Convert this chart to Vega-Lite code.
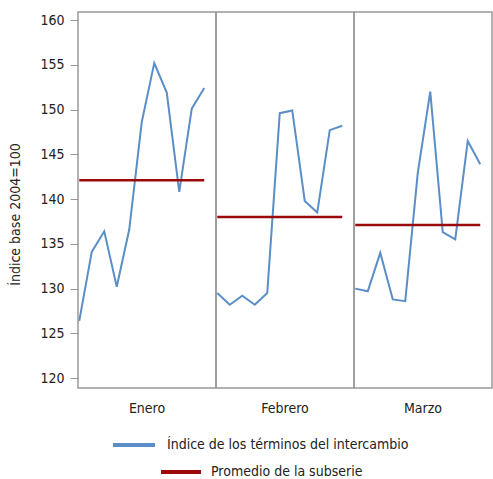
{
  "$schema": "https://vega.github.io/schema/vega-lite/v6.json",
  "padding": {"left": 8, "top": 11, "right": 0, "bottom": 0},
  "background": "white",
  "bounds": "flush",
  "data": {"values": [
    {"mes": "Enero", "anio": 2003, "valor": 126.4, "serie": "Índice de los términos del intercambio"},
    {"mes": "Enero", "anio": 2004, "valor": 134.1, "serie": "Índice de los términos del intercambio"},
    {"mes": "Enero", "anio": 2005, "valor": 136.4, "serie": "Índice de los términos del intercambio"},
    {"mes": "Enero", "anio": 2006, "valor": 130.2, "serie": "Índice de los términos del intercambio"},
    {"mes": "Enero", "anio": 2007, "valor": 136.6, "serie": "Índice de los términos del intercambio"},
    {"mes": "Enero", "anio": 2008, "valor": 148.6, "serie": "Índice de los términos del intercambio"},
    {"mes": "Enero", "anio": 2009, "valor": 155.2, "serie": "Índice de los términos del intercambio"},
    {"mes": "Enero", "anio": 2010, "valor": 151.9, "serie": "Índice de los términos del intercambio"},
    {"mes": "Enero", "anio": 2011, "valor": 140.8, "serie": "Índice de los términos del intercambio"},
    {"mes": "Enero", "anio": 2012, "valor": 150.1, "serie": "Índice de los términos del intercambio"},
    {"mes": "Enero", "anio": 2013, "valor": 152.4, "serie": "Índice de los términos del intercambio"},
    {"mes": "Febrero", "anio": 2003, "valor": 129.5, "serie": "Índice de los términos del intercambio"},
    {"mes": "Febrero", "anio": 2004, "valor": 128.2, "serie": "Índice de los términos del intercambio"},
    {"mes": "Febrero", "anio": 2005, "valor": 129.2, "serie": "Índice de los términos del intercambio"},
    {"mes": "Febrero", "anio": 2006, "valor": 128.2, "serie": "Índice de los términos del intercambio"},
    {"mes": "Febrero", "anio": 2007, "valor": 129.5, "serie": "Índice de los términos del intercambio"},
    {"mes": "Febrero", "anio": 2008, "valor": 149.6, "serie": "Índice de los términos del intercambio"},
    {"mes": "Febrero", "anio": 2009, "valor": 149.9, "serie": "Índice de los términos del intercambio"},
    {"mes": "Febrero", "anio": 2010, "valor": 139.8, "serie": "Índice de los términos del intercambio"},
    {"mes": "Febrero", "anio": 2011, "valor": 138.5, "serie": "Índice de los términos del intercambio"},
    {"mes": "Febrero", "anio": 2012, "valor": 147.7, "serie": "Índice de los términos del intercambio"},
    {"mes": "Febrero", "anio": 2013, "valor": 148.2, "serie": "Índice de los términos del intercambio"},
    {"mes": "Marzo", "anio": 2003, "valor": 130.0, "serie": "Índice de los términos del intercambio"},
    {"mes": "Marzo", "anio": 2004, "valor": 129.7, "serie": "Índice de los términos del intercambio"},
    {"mes": "Marzo", "anio": 2005, "valor": 134.0, "serie": "Índice de los términos del intercambio"},
    {"mes": "Marzo", "anio": 2006, "valor": 128.8, "serie": "Índice de los términos del intercambio"},
    {"mes": "Marzo", "anio": 2007, "valor": 128.6, "serie": "Índice de los términos del intercambio"},
    {"mes": "Marzo", "anio": 2008, "valor": 142.9, "serie": "Índice de los términos del intercambio"},
    {"mes": "Marzo", "anio": 2009, "valor": 152.0, "serie": "Índice de los términos del intercambio"},
    {"mes": "Marzo", "anio": 2010, "valor": 136.3, "serie": "Índice de los términos del intercambio"},
    {"mes": "Marzo", "anio": 2011, "valor": 135.5, "serie": "Índice de los términos del intercambio"},
    {"mes": "Marzo", "anio": 2012, "valor": 146.5, "serie": "Índice de los términos del intercambio"},
    {"mes": "Marzo", "anio": 2013, "valor": 143.9, "serie": "Índice de los términos del intercambio"},
    {"mes": "Enero", "anio": 2003, "valor": 142.1, "serie": "Promedio de la subserie"},
    {"mes": "Enero", "anio": 2013, "valor": 142.1, "serie": "Promedio de la subserie"},
    {"mes": "Febrero", "anio": 2003, "valor": 138.0, "serie": "Promedio de la subserie"},
    {"mes": "Febrero", "anio": 2013, "valor": 138.0, "serie": "Promedio de la subserie"},
    {"mes": "Marzo", "anio": 2003, "valor": 137.1, "serie": "Promedio de la subserie"},
    {"mes": "Marzo", "anio": 2013, "valor": 137.1, "serie": "Promedio de la subserie"}
  ]},
  "facet": {
    "column": {
      "field": "mes", "type": "nominal", "sort": ["Enero", "Febrero", "Marzo"],
      "header": {"title": null, "labelOrient": "bottom", "labelFontSize": 14, "labelPadding": 14, "labelColor": "#222222", "labelFont": "DejaVu Sans Condensed, sans-serif"}
    }
  },
  "spacing": 0,
  "spec": {
    "width": 138,
    "height": 376,
    "layer": [
      {
        "transform": [{"filter": "datum.serie == 'Índice de los términos del intercambio'"}],
        "mark": {"type": "line", "strokeWidth": 2},
        "encoding": {
          "x": {"field": "anio", "type": "quantitative", "axis": null, "scale": {"domain": [2002.9, 2013.94], "nice": false, "zero": false}},
          "y": {"field": "valor", "type": "quantitative", "scale": {"domain": [118.9, 160.9], "nice": false, "zero": false},
                "axis": {"title": "Índice base 2004=100", "values": [120, 125, 130, 135, 140, 145, 150, 155, 160], "grid": false, "tickSize": 8, "tickColor": "#999999", "domain": false, "labelFontSize": 14, "titleFontSize": 14, "titleFontWeight": "normal", "labelColor": "#222222", "titleColor": "#222222", "labelPadding": 6, "titlePadding": 17, "titleY": 202, "labelFont": "DejaVu Sans Condensed, sans-serif", "titleFont": "DejaVu Sans Condensed, sans-serif"}},
          "color": {"field": "serie", "type": "nominal", "scale": {"range": ["#5B8EC6"]},
                    "legend": {"title": null, "orient": "none", "legendX": 33, "legendY": 410, "symbolType": "stroke", "symbolSize": 1764, "symbolStrokeWidth": 4, "labelFontSize": 14, "labelLimit": 400, "labelColor": "#222222", "labelFont": "DejaVu Sans Condensed, sans-serif", "labelOffset": 10}}
        }
      },
      {
        "transform": [{"filter": "datum.serie == 'Promedio de la subserie'"}],
        "mark": {"type": "line", "strokeWidth": 2.5},
        "encoding": {
          "x": {"field": "anio", "type": "quantitative", "axis": null},
          "y": {"field": "valor", "type": "quantitative"},
          "stroke": {"field": "serie", "type": "nominal", "scale": {"range": ["#9B0A0A"]},
                    "legend": {"title": null, "orient": "none", "legendX": 81, "legendY": 438, "symbolType": "stroke", "symbolSize": 1600, "symbolStrokeWidth": 4, "labelFontSize": 14, "labelLimit": 400, "labelColor": "#222222", "labelFont": "DejaVu Sans Condensed, sans-serif", "labelOffset": 8}}
        }
      }
    ]
  },
  "config": {
    "view": {"stroke": "#999999", "strokeWidth": 1.5}
  }
}
